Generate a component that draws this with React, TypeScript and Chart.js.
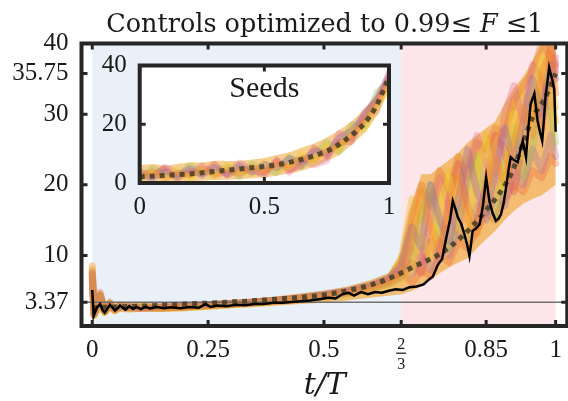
import React, { useEffect, useRef } from 'react';
import { Chart, registerables } from 'chart.js';

Chart.register(...registerables);

// ---------------- main axes ----------------
const X_MIN = -0.0232;
const X_MAX = 1.0251;
const Y_MIN = 0;
const Y_MAX = 40;
const X_TICKS = [0, 0.25, 0.5, 2 / 3, 0.85, 1];
const X_TICK_LABELS = ['0', '0.25', '0.5', '', '0.85', '1'];
const FRACTION_TICK = 2 / 3;
const FRACTION_PARTS = ['2', '3'];
const Y_TICKS = [3.37, 10, 20, 30, 35.75, 40];
const Y_TICK_LABELS = ['3.37', '10', '20', '30', '35.75', '40'];
const REGION_EDGES = [0, 2 / 3, 1];
const REF_LEVEL = 3.37;

// black control trajectory
const BLACK_T = [
  0, 0.003, 0.01, 0.017, 0.022, 0.027, 0.033, 0.038, 0.044, 0.049, 0.055, 0.06, 0.066, 0.072, 0.08, 0.088,
  0.096, 0.105, 0.115, 0.125, 0.14, 0.155, 0.17, 0.19, 0.21, 0.23, 0.245, 0.255, 0.27, 0.29, 0.31, 0.33,
  0.35, 0.37, 0.39, 0.41, 0.43, 0.45, 0.47, 0.49, 0.51, 0.525, 0.54, 0.553, 0.565, 0.58, 0.595, 0.61,
  0.625, 0.64, 0.655, 0.67, 0.685, 0.7, 0.715, 0.725, 0.735, 0.746, 0.755, 0.764, 0.772, 0.778, 0.784,
  0.789, 0.796, 0.803, 0.809, 0.814, 0.821, 0.828, 0.836, 0.843, 0.85, 0.857, 0.864, 0.871, 0.877, 0.882,
  0.888, 0.893, 0.898, 0.903, 0.91, 0.918, 0.924, 0.929, 0.936, 0.941, 0.946, 0.954, 0.961, 0.966, 0.971,
  0.975, 0.978, 0.983, 0.986, 0.99, 0.993, 0.997, 1.0,
];
const BLACK_Y = [
  5.1, 1.4, 2.6, 3.1, 2.3, 1.9, 2.5, 3.0, 2.6, 2.2, 2.5, 2.9, 2.6, 2.3, 2.8, 2.4,
  2.7, 2.4, 2.7, 2.5, 2.7, 2.5, 2.65, 2.5, 2.7, 2.6, 3.1, 2.7, 2.9, 2.8, 3.0, 2.95,
  3.1, 3.1, 3.3, 3.3, 3.4, 3.5, 3.6, 3.8, 4.0, 3.9, 4.5, 4.7, 4.3, 4.8, 4.5, 4.8,
  4.7, 5.0, 5.2, 5.1, 5.5, 5.6, 5.9, 6.5, 7.0, 8.7, 9.5, 12.5, 15, 17.7, 16.5,
  15.4, 14.5, 13, 11.5, 9.9, 13.5, 13.8, 14.4, 17, 21, 17.7, 16, 14.9, 15.2, 15.8,
  17.5, 19.6, 22, 23.9, 23.5, 23.2, 25, 26.2, 23.9, 28, 31.4, 32.9, 29.1, 27.5, 26.2,
  29.5, 32.4, 35, 36.6, 35.5, 34.8, 33.5, 27.5,
];

// dotted reference curve
const DOT_T = [0, 0.1, 0.2, 0.3, 0.4, 0.5, 0.55, 0.6, 0.65, 0.7, 0.75, 0.8, 0.85, 0.9, 0.925, 0.95, 0.975, 1.0];
const DOT_Y = [2.6, 2.8, 3.1, 3.4, 3.8, 4.4, 5.0, 5.8, 7.0, 8.6, 10.2, 12.8, 16.4, 21, 25, 29.5, 32, 35.75];

// seed trajectories (main)
const SEED_T = [
  0, 0.004, 0.017, 0.027, 0.038, 0.049, 0.06, 0.08, 0.1, 0.15, 0.2, 0.25, 0.3, 0.35, 0.4, 0.45, 0.5, 0.55,
  0.6, 0.64, 0.667, 0.69, 0.71, 0.73, 0.75, 0.77, 0.79, 0.81, 0.83, 0.85, 0.87, 0.89, 0.91, 0.93, 0.95,
  0.97, 0.99, 1.0,
];
const SEED_A = [8.5, 1.6, 4.6, 2.0, 3.2, 2.3, 2.9, 2.6, 2.7, 2.6, 2.7, 2.9, 3.1, 3.3, 3.6, 3.9, 4.3, 4.8, 5.5, 6.4, 7.5, 12, 19, 14, 11, 16, 21, 15, 13, 19, 24, 20, 26, 31, 27, 36, 39, 33];
const SEED_B = [7.5, 1.8, 4.2, 2.2, 3.1, 2.4, 2.8, 2.7, 2.6, 2.7, 2.8, 3.0, 3.2, 3.4, 3.7, 4.0, 4.5, 5.0, 5.8, 6.8, 8.5, 14, 11, 20, 15, 12, 18, 25, 19, 16, 22, 28, 23, 29, 35, 30, 37, 35];
const SEED_C = [8.0, 1.5, 4.0, 1.9, 3.3, 2.2, 3.0, 2.5, 2.8, 2.5, 2.6, 2.8, 3.0, 3.2, 3.5, 3.8, 4.1, 4.5, 5.1, 5.8, 6.5, 8, 13, 9.5, 17, 21, 14, 12, 22, 26, 18, 21, 30, 24, 33, 38, 32, 29];
const SEED_D = [6.5, 1.7, 3.8, 2.1, 3.0, 2.3, 2.7, 2.6, 2.6, 2.6, 2.7, 2.9, 3.1, 3.3, 3.5, 3.8, 4.2, 4.6, 5.3, 6.0, 7.0, 9, 7.5, 12, 9.5, 18, 23, 17, 14, 20, 27, 25, 19, 26, 32, 28, 40, 36];
const SEED_E = [7.0, 1.6, 4.4, 2.0, 3.2, 2.3, 2.8, 2.6, 2.7, 2.6, 2.7, 2.9, 3.1, 3.3, 3.6, 3.9, 4.3, 4.7, 5.4, 6.2, 7.2, 10, 16, 20, 13, 11, 15, 20, 24, 17, 15, 23, 28, 21, 25, 33, 30, 26];
const SEED_F = [7.8, 1.7, 4.8, 2.1, 3.4, 2.4, 3.0, 2.7, 2.8, 2.7, 2.8, 3.0, 3.2, 3.4, 3.7, 4.0, 4.4, 4.9, 5.6, 6.6, 8.0, 11, 9, 15, 21, 17, 13, 22, 27, 23, 20, 30, 34, 29, 37, 35, 31, 38];
const SEED_G = [7.2, 1.5, 4.3, 2.0, 3.1, 2.2, 2.8, 2.6, 2.6, 2.6, 2.7, 2.9, 3.1, 3.3, 3.6, 3.9, 4.3, 4.8, 5.6, 6.6, 9, 16, 20, 17, 22, 19, 24, 21, 26, 25, 28, 27, 32, 34, 36, 40, 38, 37];
const SEED_H = [7.6, 1.7, 4.5, 2.1, 3.2, 2.4, 2.9, 2.7, 2.7, 2.7, 2.8, 3.0, 3.2, 3.4, 3.7, 4.1, 4.5, 5.0, 5.7, 6.8, 9.5, 18, 15, 19, 18, 22, 20, 24, 22, 27, 25, 29, 31, 33, 30, 35, 34, 31];
const SEED_I = [6.8, 1.6, 4.1, 2.0, 3.0, 2.3, 2.8, 2.6, 2.6, 2.6, 2.7, 2.9, 3.1, 3.3, 3.5, 3.8, 4.2, 4.6, 5.2, 6.0, 6.8, 7.5, 10, 8, 12, 10, 14, 12, 17, 15, 19, 17, 22, 20, 25, 22, 27, 24];
const SEED_J = [7.3, 1.6, 4.4, 2.0, 3.2, 2.3, 2.9, 2.6, 2.7, 2.6, 2.7, 2.9, 3.1, 3.3, 3.6, 3.9, 4.3, 4.8, 5.5, 6.3, 7.8, 6, 8, 7, 10, 9, 12, 11, 13.5, 16, 15, 18, 20, 19, 22, 21, 24, 23];
const SEED_UPPER = [8.8, 3.5, 5.0, 3.0, 3.6, 3.1, 3.4, 3.3, 3.2, 3.2, 3.3, 3.5, 3.7, 3.9, 4.2, 4.6, 5.0, 5.6, 6.5, 7.5, 10.5, 17, 21.5, 21.5, 22.5, 23.5, 24.5, 26, 27, 28, 29, 31.5, 33.7, 35.3, 37.5, 40, 40, 40];
const SEED_LOWER = [1.0, 1.0, 2.0, 1.4, 2.0, 1.7, 2.0, 1.9, 2.0, 2.0, 2.1, 2.3, 2.5, 2.7, 2.9, 3.1, 3.3, 3.6, 4.0, 4.3, 4.5, 5.0, 5.6, 6.5, 7.5, 8.3, 9.0, 9.6, 11, 12.3, 13.5, 15, 16.3, 17.3, 18, 18.5, 19.5, 20];

// ---------------- inset ----------------
const IN_X_TICKS = [0, 0.5, 1];
const IN_X_TICK_LABELS = ['0', '0.5', '1'];
const IN_Y_TICKS = [0, 20, 40];
const IN_Y_TICK_LABELS = ['0', '20', '40'];
const IN_TITLE = 'Seeds';
const IN_T = [0, 0.05, 0.1, 0.15, 0.2, 0.25, 0.3, 0.35, 0.4, 0.45, 0.5, 0.55, 0.6, 0.65, 0.7, 0.75, 0.8, 0.85, 0.9, 0.95, 1.0];
const IN_A = [2, 4, 1.5, 3.5, 2.5, 5, 3, 4.5, 3, 5.5, 4, 6.5, 6, 8.5, 8, 11, 13, 16, 21, 27, 35];
const IN_B = [3, 1.5, 4, 2.5, 5, 2.5, 5.5, 3, 6, 3.5, 6.5, 5, 8.5, 7, 11, 10, 15.5, 18, 23, 29, 37];
const IN_C = [1, 3, 2.5, 4.5, 1.5, 4, 2, 6, 4.5, 3, 7, 4.5, 5.5, 10, 7, 13, 11, 19, 18, 25, 33];
const IN_D = [4, 2.5, 5, 1.5, 4, 3, 6.5, 2.5, 5, 4, 3.5, 7.5, 4.5, 6, 12, 9, 14, 14, 24, 28, 36];
const IN_E = [1.5, 5, 3, 2, 6, 3.5, 4, 5.5, 2, 6.5, 5, 3.5, 9, 5.5, 9.5, 14, 10.5, 20, 19.5, 31, 34];
const IN_F = [2.5, 2, 5.5, 3.5, 3, 6, 2.5, 4, 7, 4.5, 2.5, 8, 3.5, 8, 6, 7.5, 17, 15, 22, 24, 38];
const IN_UPPER = [6, 6.5, 6, 6.5, 7, 7, 7.5, 7.5, 7.5, 8, 8.5, 9.5, 10.5, 12, 13.5, 15.5, 18, 21, 25, 30, 37.5];
const IN_LOWER = [0.3, 0.5, 0.5, 0.6, 0.7, 0.8, 1, 1.1, 1.3, 1.6, 2, 2.5, 3.2, 4.2, 5.5, 7.5, 9.5, 13, 17, 23, 32];
const IN_DOT_T = [0, 0.1, 0.2, 0.3, 0.4, 0.5, 0.6, 0.7, 0.76, 0.83, 0.9, 0.945, 0.985, 1.0];
const IN_DOT_Y = [2.1, 2.6, 3.1, 3.9, 4.8, 5.6, 7.0, 9.3, 11.2, 15, 20.2, 25.6, 33, 36.2];

const SEED_COLORS = [
  'rgba(245,140,35,0.40)',
  'rgba(150,100,175,0.36)',
  'rgba(240,205,50,0.45)',
  'rgba(220,70,85,0.32)',
  'rgba(150,190,80,0.32)',
  'rgba(225,95,150,0.30)',
  'rgba(230,120,40,0.38)',
  'rgba(235,190,40,0.42)',
  'rgba(170,110,160,0.34)',
  'rgba(235,100,60,0.32)',
];
const BAND_FILL = 'rgba(240,165,50,0.66)';
const IN_BAND_FILL = 'rgba(238,172,64,0.58)';
const DOT_COLOR = 'rgba(72,62,40,0.88)';
const BLUE_BG = 'rgb(233,240,248)';
const PINK_BG = 'rgb(252,230,233)';
const AXIS_COLOR = '#262626';
const TICK_FONT = "'Liberation Serif', 'Times New Roman', serif";
const TITLE_FONT = "'DejaVu Serif', serif";

const TITLE_PARTS = ['Controls optimized to 0.99\u2264 ', 'F', ' \u22641'];
const X_LABEL = 't/T';

const pts = (xs: number[], ys: number[]) => xs.map((t, i) => ({ x: t, y: ys[i] }));

function seedSets(xs: number[], series: number[][], width: number) {
  return series.map((ys, i) => ({
    label: 'seed' + i,
    data: pts(xs, ys),
    borderColor: SEED_COLORS[i % SEED_COLORS.length],
    borderWidth: width,
    borderCapStyle: 'round',
    borderJoinStyle: 'round',
    pointRadius: 0,
    tension: 0,
    fill: false,
  }));
}

function drawFrame(ctx: CanvasRenderingContext2D, a: any, xs: any, ys: any, xt: number[], yt: number[]) {
  ctx.save();
  ctx.strokeStyle = AXIS_COLOR;
  ctx.lineWidth = 3;
  ctx.lineCap = 'butt';
  const L = 6;
  ctx.beginPath();
  xt.forEach((v) => {
    const px = xs.getPixelForValue(v);
    ctx.moveTo(px, a.bottom);
    ctx.lineTo(px, a.bottom - L);
    ctx.moveTo(px, a.top);
    ctx.lineTo(px, a.top + L);
  });
  yt.forEach((v) => {
    const py = ys.getPixelForValue(v);
    ctx.moveTo(a.left, py);
    ctx.lineTo(a.left + L, py);
    ctx.moveTo(a.right, py);
    ctx.lineTo(a.right - L, py);
  });
  ctx.stroke();
  ctx.lineWidth = 4;
  ctx.strokeRect(a.left, a.top, a.right - a.left, a.bottom - a.top);
  ctx.restore();
}

const mainDecor = {
  id: 'mainDecor',
  beforeDatasetsDraw(chart: any) {
    const { ctx, chartArea: a, scales } = chart;
    const x = scales.x;
    const e = REGION_EDGES.map((v) => x.getPixelForValue(v));
    ctx.save();
    ctx.fillStyle = BLUE_BG;
    ctx.fillRect(e[0], a.top, e[1] - e[0], a.bottom - a.top);
    ctx.fillStyle = PINK_BG;
    ctx.fillRect(e[1], a.top, e[2] - e[1], a.bottom - a.top);
    ctx.restore();
  },
  afterDraw(chart: any) {
    const { ctx, chartArea: a, scales } = chart;
    drawFrame(ctx, a, scales.x, scales.y, X_TICKS, Y_TICKS);
    ctx.save();
    ctx.fillStyle = '#1a1a1a';
    // fraction tick label 2/3
    const fx = scales.x.getPixelForValue(FRACTION_TICK);
    ctx.font = `16px ${TICK_FONT}`;
    ctx.textAlign = 'center';
    ctx.textBaseline = 'alphabetic';
    ctx.fillText(FRACTION_PARTS[0], fx, 349);
    ctx.fillText(FRACTION_PARTS[1], fx, 368.5);
    ctx.fillRect(fx - 5, 352.6, 10, 1.2);
    // title
    const fonts = [`25.5px ${TITLE_FONT}`, `italic 25.5px ${TITLE_FONT}`, `25.5px ${TITLE_FONT}`];
    const widths = TITLE_PARTS.map((p, i) => {
      ctx.font = fonts[i];
      return ctx.measureText(p).width;
    });
    const total = widths.reduce((s, w) => s + w, 0);
    let cx = (a.left + 568) / 2 - total / 2;
    ctx.textAlign = 'left';
    TITLE_PARTS.forEach((p, i) => {
      ctx.font = fonts[i];
      ctx.fillText(p, cx, 32);
      cx += widths[i];
    });
    // x label
    ctx.font = `italic 30px ${TITLE_FONT}`;
    ctx.textAlign = 'center';
    ctx.fillText(X_LABEL, (a.left + 568) / 2, 394);
    ctx.restore();
  },
};

const insetDecor = {
  id: 'insetDecor',
  beforeDatasetsDraw(chart: any) {
    const { ctx, chartArea: a } = chart;
    ctx.save();
    ctx.fillStyle = '#ffffff';
    ctx.fillRect(a.left, a.top, a.right - a.left, a.bottom - a.top);
    ctx.restore();
  },
  afterDraw(chart: any) {
    const { ctx, chartArea: a, scales } = chart;
    ctx.save();
    ctx.fillStyle = '#1a1a1a';
    ctx.font = `30px ${TICK_FONT}`;
    ctx.textAlign = 'center';
    ctx.textBaseline = 'alphabetic';
    ctx.fillText(IN_TITLE, (a.left + a.right) / 2, 57);
    ctx.restore();
    drawFrame(ctx, a, scales.x, scales.y, IN_X_TICKS, IN_Y_TICKS);
  },
};

function axisOpts(min: number, max: number, ticks: number[], labels: string[], fit: (s: any) => void, padding: number) {
  return {
    type: 'linear',
    min,
    max,
    afterBuildTicks: (s: any) => {
      s.ticks = ticks.map((v) => ({ value: v }));
    },
    afterFit: fit,
    grid: { display: false, drawTicks: false },
    border: { display: false },
    ticks: {
      autoSkip: false,
      maxRotation: 0,
      minRotation: 0,
      padding,
      color: '#1a1a1a',
      font: { family: TICK_FONT, size: 25, lineHeight: 1 },
      callback: (_v: any, i: number) => labels[i],
    },
  };
}

export default function App() {
  const mainRef = useRef<HTMLCanvasElement>(null);
  const insetRef = useRef<HTMLCanvasElement>(null);

  useEffect(() => {
    const main = new Chart(mainRef.current as HTMLCanvasElement, {
      type: 'line',
      data: {
        datasets: [
          { label: 'control', data: pts(BLACK_T, BLACK_Y), borderColor: '#000000', borderWidth: 2.5, pointRadius: 0, tension: 0, fill: false },
          { label: 'mean', data: pts(DOT_T, DOT_Y), borderColor: DOT_COLOR, borderWidth: 5, borderDash: [5, 5], pointRadius: 0, cubicInterpolationMode: 'monotone', fill: false },
          { label: 'ref', data: [{ x: X_MIN, y: REF_LEVEL }, { x: X_MAX, y: REF_LEVEL }], borderColor: 'rgba(105,105,105,0.95)', borderWidth: 1.6, pointRadius: 0, fill: false },
          ...seedSets(SEED_T, [SEED_A, SEED_B, SEED_C, SEED_D, SEED_E, SEED_F, SEED_G, SEED_H, SEED_I, SEED_J], 7),
          { label: 'upper', data: pts(SEED_T, SEED_UPPER), borderWidth: 0, borderColor: 'rgba(0,0,0,0)', backgroundColor: BAND_FILL, pointRadius: 0, tension: 0, fill: '+1' },
          { label: 'lower', data: pts(SEED_T, SEED_LOWER), borderWidth: 0, borderColor: 'rgba(0,0,0,0)', pointRadius: 0, tension: 0, fill: false },
        ] as any,
      },
      options: {
        animation: false,
        responsive: false,
        events: [],
        layout: { padding: { left: 0, top: 43.5, right: 4, bottom: 0 } },
        plugins: { legend: { display: false }, tooltip: { enabled: false }, title: { display: false } },
        scales: {
          x: axisOpts(X_MIN, X_MAX, X_TICKS, X_TICK_LABELS, (s: any) => { s.height = 75; }, 12),
          y: axisOpts(Y_MIN, Y_MAX, Y_TICKS, Y_TICK_LABELS, (s: any) => { s.width = 81.5; }, 13),
        } as any,
      },
      plugins: [mainDecor],
    });

    const inset = new Chart(insetRef.current as HTMLCanvasElement, {
      type: 'line',
      data: {
        datasets: [
          { label: 'mean', data: pts(IN_DOT_T, IN_DOT_Y), borderColor: DOT_COLOR, borderWidth: 5, borderDash: [5, 5], pointRadius: 0, cubicInterpolationMode: 'monotone', fill: false },
          ...seedSets(IN_T, [IN_A, IN_B, IN_C, IN_D, IN_E, IN_F], 6),
          { label: 'upper', data: pts(IN_T, IN_UPPER), borderWidth: 0, borderColor: 'rgba(0,0,0,0)', backgroundColor: IN_BAND_FILL, pointRadius: 0, tension: 0.3, fill: '+1' },
          { label: 'lower', data: pts(IN_T, IN_LOWER), borderWidth: 0, borderColor: 'rgba(0,0,0,0)', pointRadius: 0, tension: 0.3, fill: false },
        ] as any,
      },
      options: {
        animation: false,
        responsive: false,
        events: [],
        layout: { padding: { left: 0, top: 23.7, right: 21, bottom: 0 } },
        plugins: { legend: { display: false }, tooltip: { enabled: false }, title: { display: false } },
        scales: {
          x: axisOpts(0, 1, IN_X_TICKS, IN_X_TICK_LABELS, (s: any) => { s.height = 47; }, 12),
          y: axisOpts(0, 40, IN_Y_TICKS, IN_Y_TICK_LABELS, (s: any) => { s.width = 49.7; }, 13),
        } as any,
      },
      plugins: [insetDecor],
    });

    return () => {
      main.destroy();
      inset.destroy();
    };
  }, []);

  return (
    <div style={{ position: 'fixed', left: 0, top: 0, width: 568, height: 401, overflow: 'hidden', background: '#ffffff' }}>
      <canvas ref={mainRef} width={574} height={401} style={{ position: 'absolute', left: 0, top: 0, width: 574, height: 401 }} />
      <canvas ref={insetRef} width={320} height={190} style={{ position: 'absolute', left: 90, top: 40, width: 320, height: 190 }} />
    </div>
  );
}
